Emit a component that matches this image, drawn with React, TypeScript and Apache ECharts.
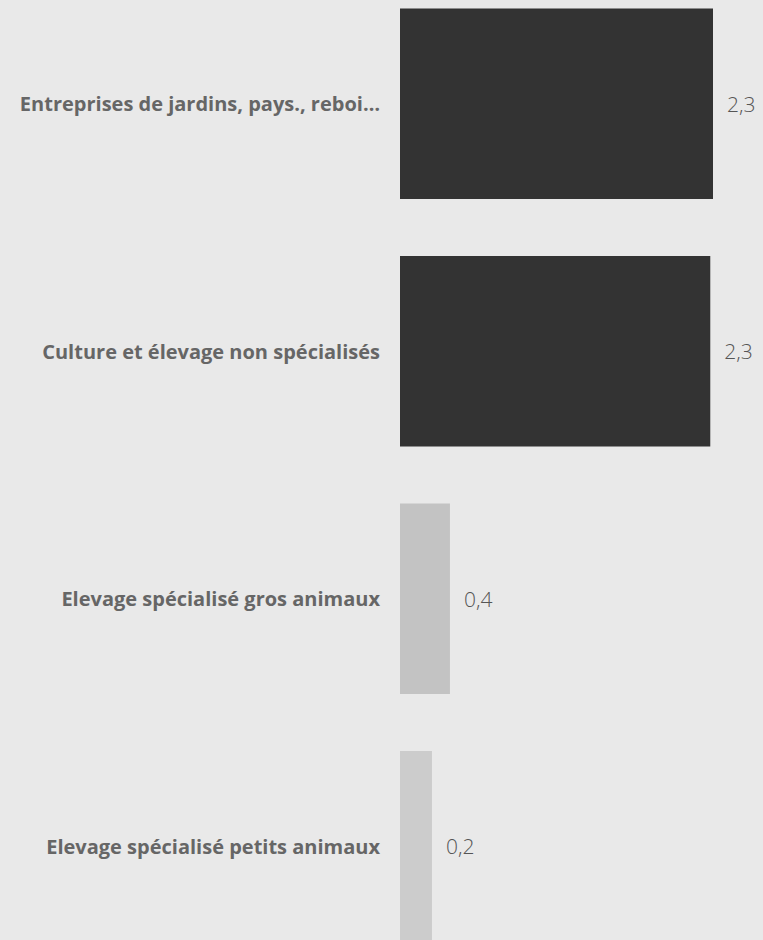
import React, { useEffect, useRef } from "react";
import * as echarts from "echarts";

const categories = [
  "Entreprises de jardins, pays., reboi…",
  "Culture et élevage non spécialisés",
  "Elevage spécialisé gros animaux",
  "Elevage spécialisé petits animaux",
];
const values = [2.3, 2.28, 0.367, 0.235];
const barColors = ["#333333", "#333333", "#c3c3c3", "#cccccc"];

export default function App() {
  const ref = useRef<HTMLDivElement>(null);
  useEffect(() => {
    document.body.style.background = "#e9e9e9";
    if (!ref.current) return;
    const chart = echarts.init(ref.current, undefined, { renderer: "svg" });
    chart.setOption({
      animation: false,
      backgroundColor: "#e9e9e9",
      grid: { left: 400, right: 50, top: 0, bottom: 0, containLabel: false },
      xAxis: {
        type: "value",
        min: 0,
        max: 2.3,
        show: false,
      },
      yAxis: {
        type: "category",
        inverse: true,
        data: categories,
        axisLine: { show: false },
        axisTick: { show: false },
        splitLine: { show: false },
        axisLabel: {
          margin: 20,
          color: "#666666",
          fontWeight: "bold",
          fontSize: 20,
          fontFamily: "Open Sans",
        },
      },
      series: [
        {
          type: "bar",
          barCategoryGap: "23%",
          data: values.map((v, i) => ({ value: v, itemStyle: { color: barColors[i] } })),
          label: {
            show: true,
            position: "right",
            distance: 14,
            color: "#555555",
            fontSize: 21,
            fontFamily: "Open Sans",
            fontWeight: 300,
            formatter: (p: any) => p.value.toFixed(1).replace(".", ","),
          },
        },
      ],
    });
    return () => chart.dispose();
  }, []);
  return (
    <div
      ref={ref}
      style={{ position: "fixed", left: 0, top: -20, width: 763, height: 990 }}
    />
  );
}
